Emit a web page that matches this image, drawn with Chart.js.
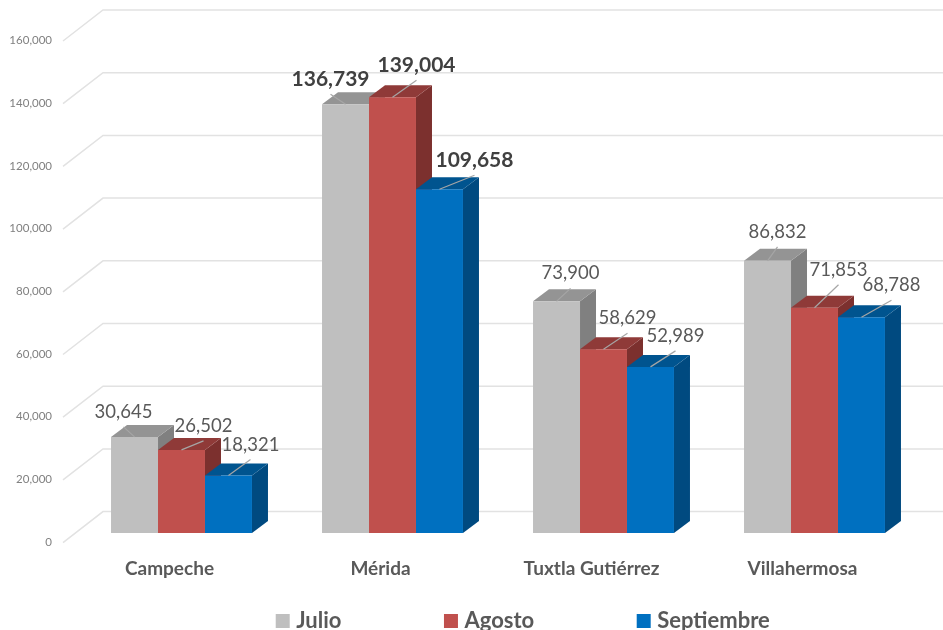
<!DOCTYPE html>
<html>
<head>
<meta charset="utf-8">
<title>Chart</title>
<script src="https://cdn.jsdelivr.net/npm/chart.js@4"></script>
<style>
  html, body { margin: 0; padding: 0; background: #fff; overflow: hidden; }
  canvas { display: block; }
</style>
</head>
<body>
<canvas id="chart" width="943" height="630"></canvas>
<script>
const categories = ["Campeche", "Mérida", "Tuxtla Gutiérrez", "Villahermosa"];
const julio = [30645, 136739, 73900, 86832];
const agosto = [26502, 139004, 58629, 71853];
const septiembre = [18321, 109658, 52989, 68788];
const boldCategory = "Mérida";

const frontColors = ["#BFBFBF", "#C0504D", "#0070C0"];
const topColors = ["#949494", "#8F3A38", "#00548F"];
const sideColors = ["#808080", "#7C302E", "#004A80"];

// 3D look
const barDepth = { x: 16, y: -12 };
const wallBack = { x: 103, y: -21.4 };
const wallFront = { x: 63, y: 9.6 };

// end of each leader line, measured from the top of the bar [series][category]
const leaderEnds = [
  [[-11, -10], [-15, -10], [14, -13], [10, -14]],
  [[22, -9], [24, -17], [24, -16], [24, -23]],
  [[22, -16], [35, -14], [25, -16], [30, -17]],
];

function fillPoly(ctx, color, pts) {
  ctx.fillStyle = color;
  ctx.beginPath();
  pts.forEach((p, i) => (i ? ctx.lineTo(p[0], p[1]) : ctx.moveTo(p[0], p[1])));
  ctx.closePath();
  ctx.fill();
}

const wallAndDepth = {
  id: "wallAndDepth",
  afterLayout(chart) {
    // legend sits right of center in the original
    chart.legend.left += 65;
    chart.legend.right += 65;
    chart.legend.top = 503;
  },
  beforeDatasetsDraw(chart) {
    const ctx = chart.ctx;
    const yScale = chart.scales.y;

    // gridlines on the back wall
    ctx.save();
    ctx.strokeStyle = "#E2E2E2";
    ctx.lineWidth = 1.5;
    yScale.ticks.forEach((t) => {
      const py = yScale.getPixelForValue(t.value);
      ctx.beginPath();
      ctx.moveTo(wallFront.x, py + wallFront.y);
      ctx.lineTo(wallBack.x, py + wallBack.y);
      ctx.lineTo(chart.width, py + wallBack.y);
      ctx.stroke();
    });

    // top and side of bars, left to right, fronts get drawn over them after
    chart.data.datasets.forEach((ds, s) => {
      chart.getDatasetMeta(s).data.forEach((bar) => {
        const l = bar.x - bar.width / 2;
        const r = bar.x + bar.width / 2;
        const d = barDepth;
        fillPoly(ctx, sideColors[s], [[r, bar.y], [r + d.x, bar.y + d.y], [r + d.x, bar.base + d.y], [r, bar.base]]);
        fillPoly(ctx, topColors[s], [[l, bar.y], [l + d.x, bar.y + d.y], [r + d.x, bar.y + d.y], [r, bar.y]]);
      });
    });
    ctx.restore();
  },
  afterDatasetsDraw(chart) {
    const ctx = chart.ctx;
    ctx.save();
    ctx.textAlign = "center";
    ctx.textBaseline = "middle";
    chart.data.datasets.forEach((ds, s) => {
      chart.getDatasetMeta(s).data.forEach((bar, i) => {
        const end = leaderEnds[s][i];
        const ex = bar.x + end[0];
        const ey = bar.y + end[1];
        ctx.strokeStyle = "#A6A6A6";
        ctx.lineWidth = 1.2;
        ctx.beginPath();
        ctx.moveTo(bar.x, bar.y);
        ctx.lineTo(ex, ey);
        ctx.stroke();

        const bold = categories[i] === boldCategory;
        ctx.font = bold ? "bold 21px Lato" : "18.5px Lato";
        ctx.fillStyle = bold ? "#404040" : "#595959";
        ctx.fillText(ds.data[i].toLocaleString("en-US"), ex, ey - 15);
      });
    });
    ctx.restore();
  },
};

new Chart(document.getElementById("chart"), {
  type: "bar",
  data: {
    labels: categories,
    datasets: [
      { label: "Julio", data: julio, backgroundColor: frontColors[0] },
      { label: "Agosto", data: agosto, backgroundColor: frontColors[1] },
      { label: "Septiembre", data: septiembre, backgroundColor: frontColors[2] },
    ],
  },
  options: {
    responsive: false,
    animation: false,
    barPercentage: 1,
    categoryPercentage: 0.668,
    layout: {
      autoPadding: false,
      padding: { top: 31.4, left: 0, right: 23, bottom: 0 },
    },
    scales: {
      x: {
        grid: { display: false },
        border: { display: false },
        afterFit(scale) { scale.height = 67; },
        ticks: {
          autoSkip: false,
          maxRotation: 0,
          padding: 16,
          labelOffset: -12,
          color: "#595959",
          font: { family: "Lato", size: 19, weight: "bold" },
        },
      },
      y: {
        min: 0,
        max: 160000,
        grid: { display: false, drawTicks: false },
        border: { display: false },
        afterFit(scale) { scale.width = 76; },
        ticks: {
          stepSize: 20000,
          padding: 24,
          labelOffset: 9,
          color: "#808080",
          font: { family: "Lato", size: 11.5 },
          callback: (v) => v.toLocaleString("en-US"),
        },
      },
    },
    plugins: {
      tooltip: { enabled: false },
      legend: {
        position: "bottom",
        maxHeight: 30,
        labels: {
          boxWidth: 5,
          boxHeight: 5,
          padding: 107,
          color: "#595959",
          font: { family: "Lato", size: 22, weight: "bold" },
          // thick border so the square reads 14px but text stays close to it
          generateLabels(chart) {
            return Chart.defaults.plugins.legend.labels.generateLabels(chart).map((item) => {
              item.lineWidth = 9;
              item.strokeStyle = item.fillStyle;
              return item;
            });
          },
        },
      },
    },
  },
  plugins: [wallAndDepth],
});
</script>
</body>
</html>
